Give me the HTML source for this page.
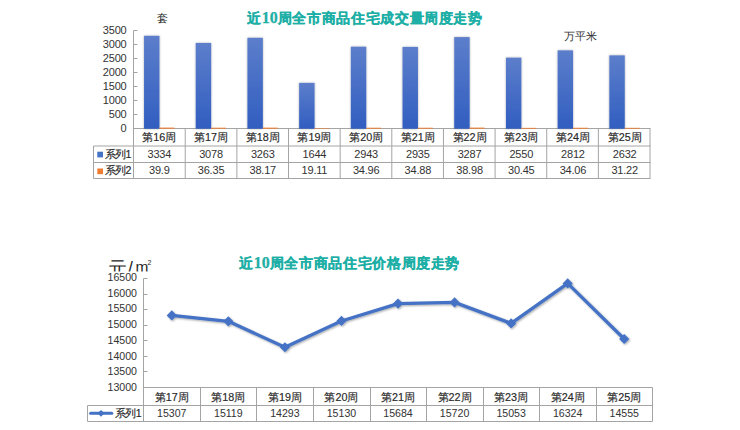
<!DOCTYPE html><html><head><meta charset="utf-8"><style>
html,body{margin:0;padding:0;background:#fff;width:740px;height:430px;overflow:hidden}
svg{display:block}
text{font-family:"Liberation Sans",sans-serif}
.t{font-weight:bold;fill:#1DAFA6;font-size:14px;letter-spacing:0.65px;stroke:#1DAFA6;stroke-width:0.25px}
.t .d{font-family:"Liberation Serif",serif;font-size:16px;letter-spacing:0}
.lab{font-size:11px;letter-spacing:-0.2px;fill:#333}
.lab2{font-size:10.6px;fill:#333}
.cat{font-size:10.8px;fill:#262626;stroke:#262626;stroke-width:0.15px}
</style></head><body>
<svg width="740" height="430" viewBox="0 0 740 430">
<defs>
<linearGradient id="bg" x1="0" y1="0" x2="0" y2="1">
<stop offset="0" stop-color="#5C7ECB"/><stop offset="1" stop-color="#315EC0"/>
</linearGradient>
<filter id="sh" x="-50%" y="-10%" width="200%" height="120%"><feGaussianBlur in="SourceAlpha" stdDeviation="1"/><feOffset dx="0.2" dy="0"/><feComponentTransfer><feFuncA type="linear" slope="0.35"/></feComponentTransfer><feMerge><feMergeNode/><feMergeNode in="SourceGraphic"/></feMerge></filter>
<filter id="sh2" x="-10%" y="-10%" width="120%" height="130%"><feGaussianBlur in="SourceAlpha" stdDeviation="1"/><feOffset dx="0.6" dy="1"/><feComponentTransfer><feFuncA type="linear" slope="0.35"/></feComponentTransfer><feMerge><feMergeNode/><feMergeNode in="SourceGraphic"/></feMerge></filter>
<clipPath id="cu"><rect x="90" y="240" width="80" height="31.6"/></clipPath>
</defs>

<text class="t" x="247" y="23.2">近<tspan class="d">10</tspan>周全市商品住宅成交量周度走势</text>
<text x="157" y="22" style="font-size:11px;fill:#262626">套</text>
<text x="564" y="39.6" style="font-size:10.7px;fill:#333">万平米</text>
<line x1="133.5" x2="133.5" y1="30.5" y2="178.5" stroke="#A4A4A4"/>
<line x1="133.5" x2="650.5" y1="128.5" y2="128.5" stroke="#A4A4A4"/>
<line x1="133.5" x2="137.5" y1="128.50" y2="128.50" stroke="#A4A4A4" stroke-width="1"/>
<text class="lab" x="126.5" y="132.40" text-anchor="end">0</text>
<line x1="133.5" x2="137.5" y1="114.50" y2="114.50" stroke="#A4A4A4" stroke-width="1"/>
<text class="lab" x="126.5" y="118.40" text-anchor="end">500</text>
<line x1="133.5" x2="137.5" y1="100.50" y2="100.50" stroke="#A4A4A4" stroke-width="1"/>
<text class="lab" x="126.5" y="104.40" text-anchor="end">1000</text>
<line x1="133.5" x2="137.5" y1="86.50" y2="86.50" stroke="#A4A4A4" stroke-width="1"/>
<text class="lab" x="126.5" y="90.40" text-anchor="end">1500</text>
<line x1="133.5" x2="137.5" y1="72.50" y2="72.50" stroke="#A4A4A4" stroke-width="1"/>
<text class="lab" x="126.5" y="76.40" text-anchor="end">2000</text>
<line x1="133.5" x2="137.5" y1="58.50" y2="58.50" stroke="#A4A4A4" stroke-width="1"/>
<text class="lab" x="126.5" y="62.40" text-anchor="end">2500</text>
<line x1="133.5" x2="137.5" y1="44.50" y2="44.50" stroke="#A4A4A4" stroke-width="1"/>
<text class="lab" x="126.5" y="48.40" text-anchor="end">3000</text>
<line x1="133.5" x2="137.5" y1="30.50" y2="30.50" stroke="#A4A4A4" stroke-width="1"/>
<text class="lab" x="126.5" y="34.40" text-anchor="end">3500</text>
<rect x="144.05" y="35.82" width="15.4" height="92.88" fill="url(#bg)" filter="url(#sh)"/>
<rect x="159.35" y="127.59" width="15" height="1.11" fill="#ED7D31"/>
<rect x="195.75" y="42.96" width="15.4" height="85.74" fill="url(#bg)" filter="url(#sh)"/>
<rect x="211.05" y="127.69" width="15" height="1.01" fill="#ED7D31"/>
<rect x="247.45" y="37.80" width="15.4" height="90.90" fill="url(#bg)" filter="url(#sh)"/>
<rect x="262.75" y="127.64" width="15" height="1.06" fill="#ED7D31"/>
<rect x="299.15" y="82.90" width="15.4" height="45.80" fill="url(#bg)" filter="url(#sh)"/>
<rect x="314.45" y="128.17" width="15" height="0.53" fill="#ED7D31"/>
<rect x="350.85" y="46.72" width="15.4" height="81.98" fill="url(#bg)" filter="url(#sh)"/>
<rect x="366.15" y="127.73" width="15" height="0.97" fill="#ED7D31"/>
<rect x="402.55" y="46.94" width="15.4" height="81.76" fill="url(#bg)" filter="url(#sh)"/>
<rect x="417.85" y="127.73" width="15" height="0.97" fill="#ED7D31"/>
<rect x="454.25" y="37.13" width="15.4" height="91.57" fill="url(#bg)" filter="url(#sh)"/>
<rect x="469.55" y="127.61" width="15" height="1.09" fill="#ED7D31"/>
<rect x="505.95" y="57.66" width="15.4" height="71.04" fill="url(#bg)" filter="url(#sh)"/>
<rect x="521.25" y="127.85" width="15" height="0.85" fill="#ED7D31"/>
<rect x="557.65" y="50.37" width="15.4" height="78.33" fill="url(#bg)" filter="url(#sh)"/>
<rect x="572.95" y="127.75" width="15" height="0.95" fill="#ED7D31"/>
<rect x="609.35" y="55.38" width="15.4" height="73.32" fill="url(#bg)" filter="url(#sh)"/>
<rect x="624.65" y="127.83" width="15" height="0.87" fill="#ED7D31"/>
<line x1="93.5" x2="650.5" y1="146.0" y2="146.0" stroke="#A4A4A4"/>
<line x1="93.5" x2="650.5" y1="162.5" y2="162.5" stroke="#A4A4A4"/>
<line x1="93.5" x2="650.5" y1="178.5" y2="178.5" stroke="#A4A4A4"/>
<line x1="93.5" x2="93.5" y1="146.0" y2="178.5" stroke="#A4A4A4"/>
<line x1="185.24" x2="185.24" y1="128.5" y2="178.5" stroke="#A4A4A4"/>
<line x1="236.88" x2="236.88" y1="128.5" y2="178.5" stroke="#A4A4A4"/>
<line x1="288.52" x2="288.52" y1="128.5" y2="178.5" stroke="#A4A4A4"/>
<line x1="340.16" x2="340.16" y1="128.5" y2="178.5" stroke="#A4A4A4"/>
<line x1="391.80" x2="391.80" y1="128.5" y2="178.5" stroke="#A4A4A4"/>
<line x1="443.44" x2="443.44" y1="128.5" y2="178.5" stroke="#A4A4A4"/>
<line x1="495.08" x2="495.08" y1="128.5" y2="178.5" stroke="#A4A4A4"/>
<line x1="546.72" x2="546.72" y1="128.5" y2="178.5" stroke="#A4A4A4"/>
<line x1="598.36" x2="598.36" y1="128.5" y2="178.5" stroke="#A4A4A4"/>
<line x1="650.00" x2="650.00" y1="128.5" y2="178.5" stroke="#A4A4A4"/>
<text class="cat" x="159.35" y="141.00" text-anchor="middle">第16周</text>
<text class="lab" x="159.35" y="157.60" text-anchor="middle">3334</text>
<text class="lab" x="159.35" y="173.70" text-anchor="middle">39.9</text>
<text class="cat" x="211.05" y="141.00" text-anchor="middle">第17周</text>
<text class="lab" x="211.05" y="157.60" text-anchor="middle">3078</text>
<text class="lab" x="211.05" y="173.70" text-anchor="middle">36.35</text>
<text class="cat" x="262.75" y="141.00" text-anchor="middle">第18周</text>
<text class="lab" x="262.75" y="157.60" text-anchor="middle">3263</text>
<text class="lab" x="262.75" y="173.70" text-anchor="middle">38.17</text>
<text class="cat" x="314.45" y="141.00" text-anchor="middle">第19周</text>
<text class="lab" x="314.45" y="157.60" text-anchor="middle">1644</text>
<text class="lab" x="314.45" y="173.70" text-anchor="middle">19.11</text>
<text class="cat" x="366.15" y="141.00" text-anchor="middle">第20周</text>
<text class="lab" x="366.15" y="157.60" text-anchor="middle">2943</text>
<text class="lab" x="366.15" y="173.70" text-anchor="middle">34.96</text>
<text class="cat" x="417.85" y="141.00" text-anchor="middle">第21周</text>
<text class="lab" x="417.85" y="157.60" text-anchor="middle">2935</text>
<text class="lab" x="417.85" y="173.70" text-anchor="middle">34.88</text>
<text class="cat" x="469.55" y="141.00" text-anchor="middle">第22周</text>
<text class="lab" x="469.55" y="157.60" text-anchor="middle">3287</text>
<text class="lab" x="469.55" y="173.70" text-anchor="middle">38.98</text>
<text class="cat" x="521.25" y="141.00" text-anchor="middle">第23周</text>
<text class="lab" x="521.25" y="157.60" text-anchor="middle">2550</text>
<text class="lab" x="521.25" y="173.70" text-anchor="middle">30.45</text>
<text class="cat" x="572.95" y="141.00" text-anchor="middle">第24周</text>
<text class="lab" x="572.95" y="157.60" text-anchor="middle">2812</text>
<text class="lab" x="572.95" y="173.70" text-anchor="middle">34.06</text>
<text class="cat" x="624.65" y="141.00" text-anchor="middle">第25周</text>
<text class="lab" x="624.65" y="157.60" text-anchor="middle">2632</text>
<text class="lab" x="624.65" y="173.70" text-anchor="middle">31.22</text>
<rect x="97.3" y="151.7" width="5.7" height="5.7" fill="#4472C4"/>
<text class="cat" x="104.8" y="157.60" style="font-size:10.6px;letter-spacing:-0.6px">系列1</text>
<rect x="97.3" y="168.5" width="5.7" height="5.7" fill="#ED7D31"/>
<text class="cat" x="104.8" y="174.10" style="font-size:10.6px;letter-spacing:-0.6px">系列2</text>
<g clip-path="url(#cu)" style="fill:#262626"><text x="108" y="275" style="font-size:19px">元</text><text x="128" y="273.5" style="font-size:17.5px">/</text><text x="135.5" y="272" style="font-size:15.5px">m</text><text x="147.6" y="265.2" style="font-size:7px">2</text></g>
<text class="t" x="239" y="268.3">近<tspan class="d">10</tspan>周全市商品住宅价格周度走势</text>
<line x1="143.5" x2="143.5" y1="278.5" y2="421.5" stroke="#A4A4A4"/>
<line x1="143.5" x2="652.5" y1="387.5" y2="387.5" stroke="#A4A4A4"/>
<line x1="143.5" x2="147.5" y1="387.50" y2="387.50" stroke="#A4A4A4" stroke-width="1"/>
<text class="lab2" x="137" y="391.00" text-anchor="end">13000</text>
<line x1="143.5" x2="147.5" y1="371.50" y2="371.50" stroke="#A4A4A4" stroke-width="1"/>
<text class="lab2" x="137" y="374.86" text-anchor="end">13500</text>
<line x1="143.5" x2="147.5" y1="356.50" y2="356.50" stroke="#A4A4A4" stroke-width="1"/>
<text class="lab2" x="137" y="359.71" text-anchor="end">14000</text>
<line x1="143.5" x2="147.5" y1="340.50" y2="340.50" stroke="#A4A4A4" stroke-width="1"/>
<text class="lab2" x="137" y="343.57" text-anchor="end">14500</text>
<line x1="143.5" x2="147.5" y1="325.50" y2="325.50" stroke="#A4A4A4" stroke-width="1"/>
<text class="lab2" x="137" y="328.43" text-anchor="end">15000</text>
<line x1="143.5" x2="147.5" y1="309.50" y2="309.50" stroke="#A4A4A4" stroke-width="1"/>
<text class="lab2" x="137" y="312.29" text-anchor="end">15500</text>
<line x1="143.5" x2="147.5" y1="294.50" y2="294.50" stroke="#A4A4A4" stroke-width="1"/>
<text class="lab2" x="137" y="297.14" text-anchor="end">16000</text>
<line x1="143.5" x2="147.5" y1="278.50" y2="278.50" stroke="#A4A4A4" stroke-width="1"/>
<text class="lab2" x="137" y="281.00" text-anchor="end">16500</text>
<g filter="url(#sh2)">
<polyline fill="none" stroke="#4472C4" stroke-width="3.3" stroke-linejoin="round" points="171.78,315.39 228.33,321.30 284.89,347.26 341.44,320.96 398.00,303.55 454.56,302.41 511.11,323.38 567.67,283.43 624.22,339.03"/>
<rect x="168.18" y="311.79" width="7.2" height="7.2" fill="#4472C4" transform="rotate(45 171.78 315.39)"/>
<rect x="224.73" y="317.70" width="7.2" height="7.2" fill="#4472C4" transform="rotate(45 228.33 321.30)"/>
<rect x="281.29" y="343.66" width="7.2" height="7.2" fill="#4472C4" transform="rotate(45 284.89 347.26)"/>
<rect x="337.84" y="317.36" width="7.2" height="7.2" fill="#4472C4" transform="rotate(45 341.44 320.96)"/>
<rect x="394.40" y="299.95" width="7.2" height="7.2" fill="#4472C4" transform="rotate(45 398.00 303.55)"/>
<rect x="450.96" y="298.81" width="7.2" height="7.2" fill="#4472C4" transform="rotate(45 454.56 302.41)"/>
<rect x="507.51" y="319.78" width="7.2" height="7.2" fill="#4472C4" transform="rotate(45 511.11 323.38)"/>
<rect x="564.07" y="279.83" width="7.2" height="7.2" fill="#4472C4" transform="rotate(45 567.67 283.43)"/>
<rect x="620.62" y="335.43" width="7.2" height="7.2" fill="#4472C4" transform="rotate(45 624.22 339.03)"/>
</g>
<line x1="87.5" x2="652.5" y1="405.5" y2="405.5" stroke="#A4A4A4"/>
<line x1="87.5" x2="652.5" y1="421.5" y2="421.5" stroke="#A4A4A4"/>
<line x1="87.5" x2="87.5" y1="405.5" y2="421.5" stroke="#A4A4A4"/>
<line x1="200.50" x2="200.50" y1="387.5" y2="421.5" stroke="#A4A4A4"/>
<line x1="256.50" x2="256.50" y1="387.5" y2="421.5" stroke="#A4A4A4"/>
<line x1="313.50" x2="313.50" y1="387.5" y2="421.5" stroke="#A4A4A4"/>
<line x1="370.50" x2="370.50" y1="387.5" y2="421.5" stroke="#A4A4A4"/>
<line x1="426.50" x2="426.50" y1="387.5" y2="421.5" stroke="#A4A4A4"/>
<line x1="483.50" x2="483.50" y1="387.5" y2="421.5" stroke="#A4A4A4"/>
<line x1="539.50" x2="539.50" y1="387.5" y2="421.5" stroke="#A4A4A4"/>
<line x1="596.50" x2="596.50" y1="387.5" y2="421.5" stroke="#A4A4A4"/>
<line x1="652.50" x2="652.50" y1="387.5" y2="421.5" stroke="#A4A4A4"/>
<text class="cat" x="171.78" y="400.70" text-anchor="middle">第17周</text>
<text class="lab2" x="171.78" y="417.10" text-anchor="middle">15307</text>
<text class="cat" x="228.33" y="400.70" text-anchor="middle">第18周</text>
<text class="lab2" x="228.33" y="417.10" text-anchor="middle">15119</text>
<text class="cat" x="284.89" y="400.70" text-anchor="middle">第19周</text>
<text class="lab2" x="284.89" y="417.10" text-anchor="middle">14293</text>
<text class="cat" x="341.44" y="400.70" text-anchor="middle">第20周</text>
<text class="lab2" x="341.44" y="417.10" text-anchor="middle">15130</text>
<text class="cat" x="398.00" y="400.70" text-anchor="middle">第21周</text>
<text class="lab2" x="398.00" y="417.10" text-anchor="middle">15684</text>
<text class="cat" x="454.56" y="400.70" text-anchor="middle">第22周</text>
<text class="lab2" x="454.56" y="417.10" text-anchor="middle">15720</text>
<text class="cat" x="511.11" y="400.70" text-anchor="middle">第23周</text>
<text class="lab2" x="511.11" y="417.10" text-anchor="middle">15053</text>
<text class="cat" x="567.67" y="400.70" text-anchor="middle">第24周</text>
<text class="lab2" x="567.67" y="417.10" text-anchor="middle">16324</text>
<text class="cat" x="624.22" y="400.70" text-anchor="middle">第25周</text>
<text class="lab2" x="624.22" y="417.10" text-anchor="middle">14555</text>
<line x1="90.6" x2="111.8" y1="413.3" y2="413.3" stroke="#4472C4" stroke-width="3" stroke-linecap="round"/>
<rect x="98.6" y="410.9" width="4.8" height="4.8" fill="#4472C4" transform="rotate(45 101 413.3)"/>
<text class="cat" x="114.6" y="416.90" style="font-size:10.5px;letter-spacing:-0.4px">系列1</text>
</svg></body></html>
